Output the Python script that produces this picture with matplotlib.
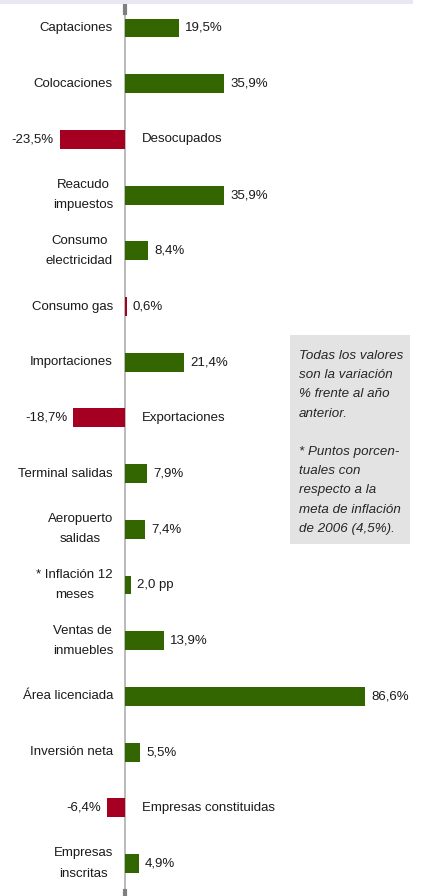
import matplotlib
matplotlib.use("Agg")
import matplotlib.pyplot as plt
from matplotlib.patches import Rectangle
from matplotlib import font_manager

categories = ["Captaciones", "Colocaciones", "Desocupados", "Reacudo\nimpuestos",
              "Consumo\nelectricidad", "Consumo gas", "Importaciones", "Exportaciones",
              "Terminal salidas", "Aeropuerto\nsalidas", "* Inflación 12\nmeses",
              "Ventas de\ninmuebles", "Área licenciada", "Inversión neta",
              "Empresas constituidas", "Empresas\ninscritas"]
values = [19.5, 35.9, -23.5, 35.9, 8.4, 0.6, 21.4, -18.7, 7.9, 7.4, 2.0, 13.9,
          86.6, 5.5, -6.4, 4.9]
units = ["%", "%", "%", "%", "%", "%", "%", "%", "%", "%", " pp", "%", "%", "%", "%", "%"]
red_rows = ["Desocupados", "Consumo gas", "Exportaciones", "Empresas constituidas"]

note1 = "Todas los valores\nson la variación\n% frente al año\nanterior."
note2 = "* Puntos porcen-\ntuales con\nrespecto a la\nmeta de inflación\nde 2006 (4,5%)."

GREEN = "#336600"
RED = "#a50021"

avail = {f.name for f in font_manager.fontManager.ttflist}
fam = "Liberation Sans Narrow" if "Liberation Sans Narrow" in avail else "Liberation Sans"
plt.rcParams["font.family"] = [fam, "DejaVu Sans"]

W, H = 422, 896
fig = plt.figure(figsize=(W / 100, H / 100), dpi=100)
ax = fig.add_axes([0, 0, 1, 1])
ax.axis("off")

px = 2.77          # pixels per percentage point
x0 = 125           # pixel of zero
y0, dy = 28, 55.7  # first row centre, row spacing
ax.set_xlim(-x0 / px, (W - x0) / px)
ax.set_ylim((H - y0) / dy, -y0 / dy)

# top band
fig.patches.append(Rectangle((0, 1 - 4 / H), 413 / W, 4 / H, transform=fig.transFigure,
                             facecolor="#e8e8f4", edgecolor="none"))

pos = list(range(len(categories)))
colors = [RED if c.replace("\n", " ") in red_rows else GREEN for c in categories]
ax.barh(pos, values, height=0.34, color=colors, zorder=3)

# zero axis line
ax.axvline(0, ymin=3 / H, ymax=1 - 6 / H, color="#b4b4b4", lw=1.3, zorder=2)
ax.axvline(0, ymin=1 - 13 / H, ymax=1 - 6 / H, color="#7f7f7f", lw=3, zorder=2)
ax.axvline(0, ymin=0, ymax=5 / H, color="#7f7f7f", lw=3, zorder=2)

off = 6 / px
lab_left = -12 / px
lab_right = 17 / px
fs = 9.5
for i, (c, v, u) in enumerate(zip(categories, values, units)):
    txt = f"{v:.1f}".replace(".", ",") + u
    if v >= 0:
        ax.text(lab_left, i, c, ha="right", va="center", ma="center",
                fontsize=fs, color="#1a1a1a", linespacing=1.92)
        ax.text(v + off, i, txt, ha="left", va="center", fontsize=fs, color="#1a1a1a")
    else:
        ax.text(lab_right, i, c, ha="left", va="center", fontsize=fs, color="#1a1a1a")
        ax.text(v - off, i, txt, ha="right", va="center", fontsize=fs, color="#1a1a1a")

# note box
fig.patches.append(Rectangle((290 / W, 1 - 544 / H), 120 / W, 209 / H,
                             transform=fig.transFigure, facecolor="#e3e3e3",
                             edgecolor="none"))
fig.text(299 / W, 1 - 350 / H, note1, ha="left", va="top", fontsize=9.6,
         style="italic", color="#262626", linespacing=1.8)
fig.text(299 / W, 1 - 446 / H, note2, ha="left", va="top", fontsize=9.6,
         style="italic", color="#262626", linespacing=1.8)

fig.savefig("out.png", dpi=100, facecolor="white")
